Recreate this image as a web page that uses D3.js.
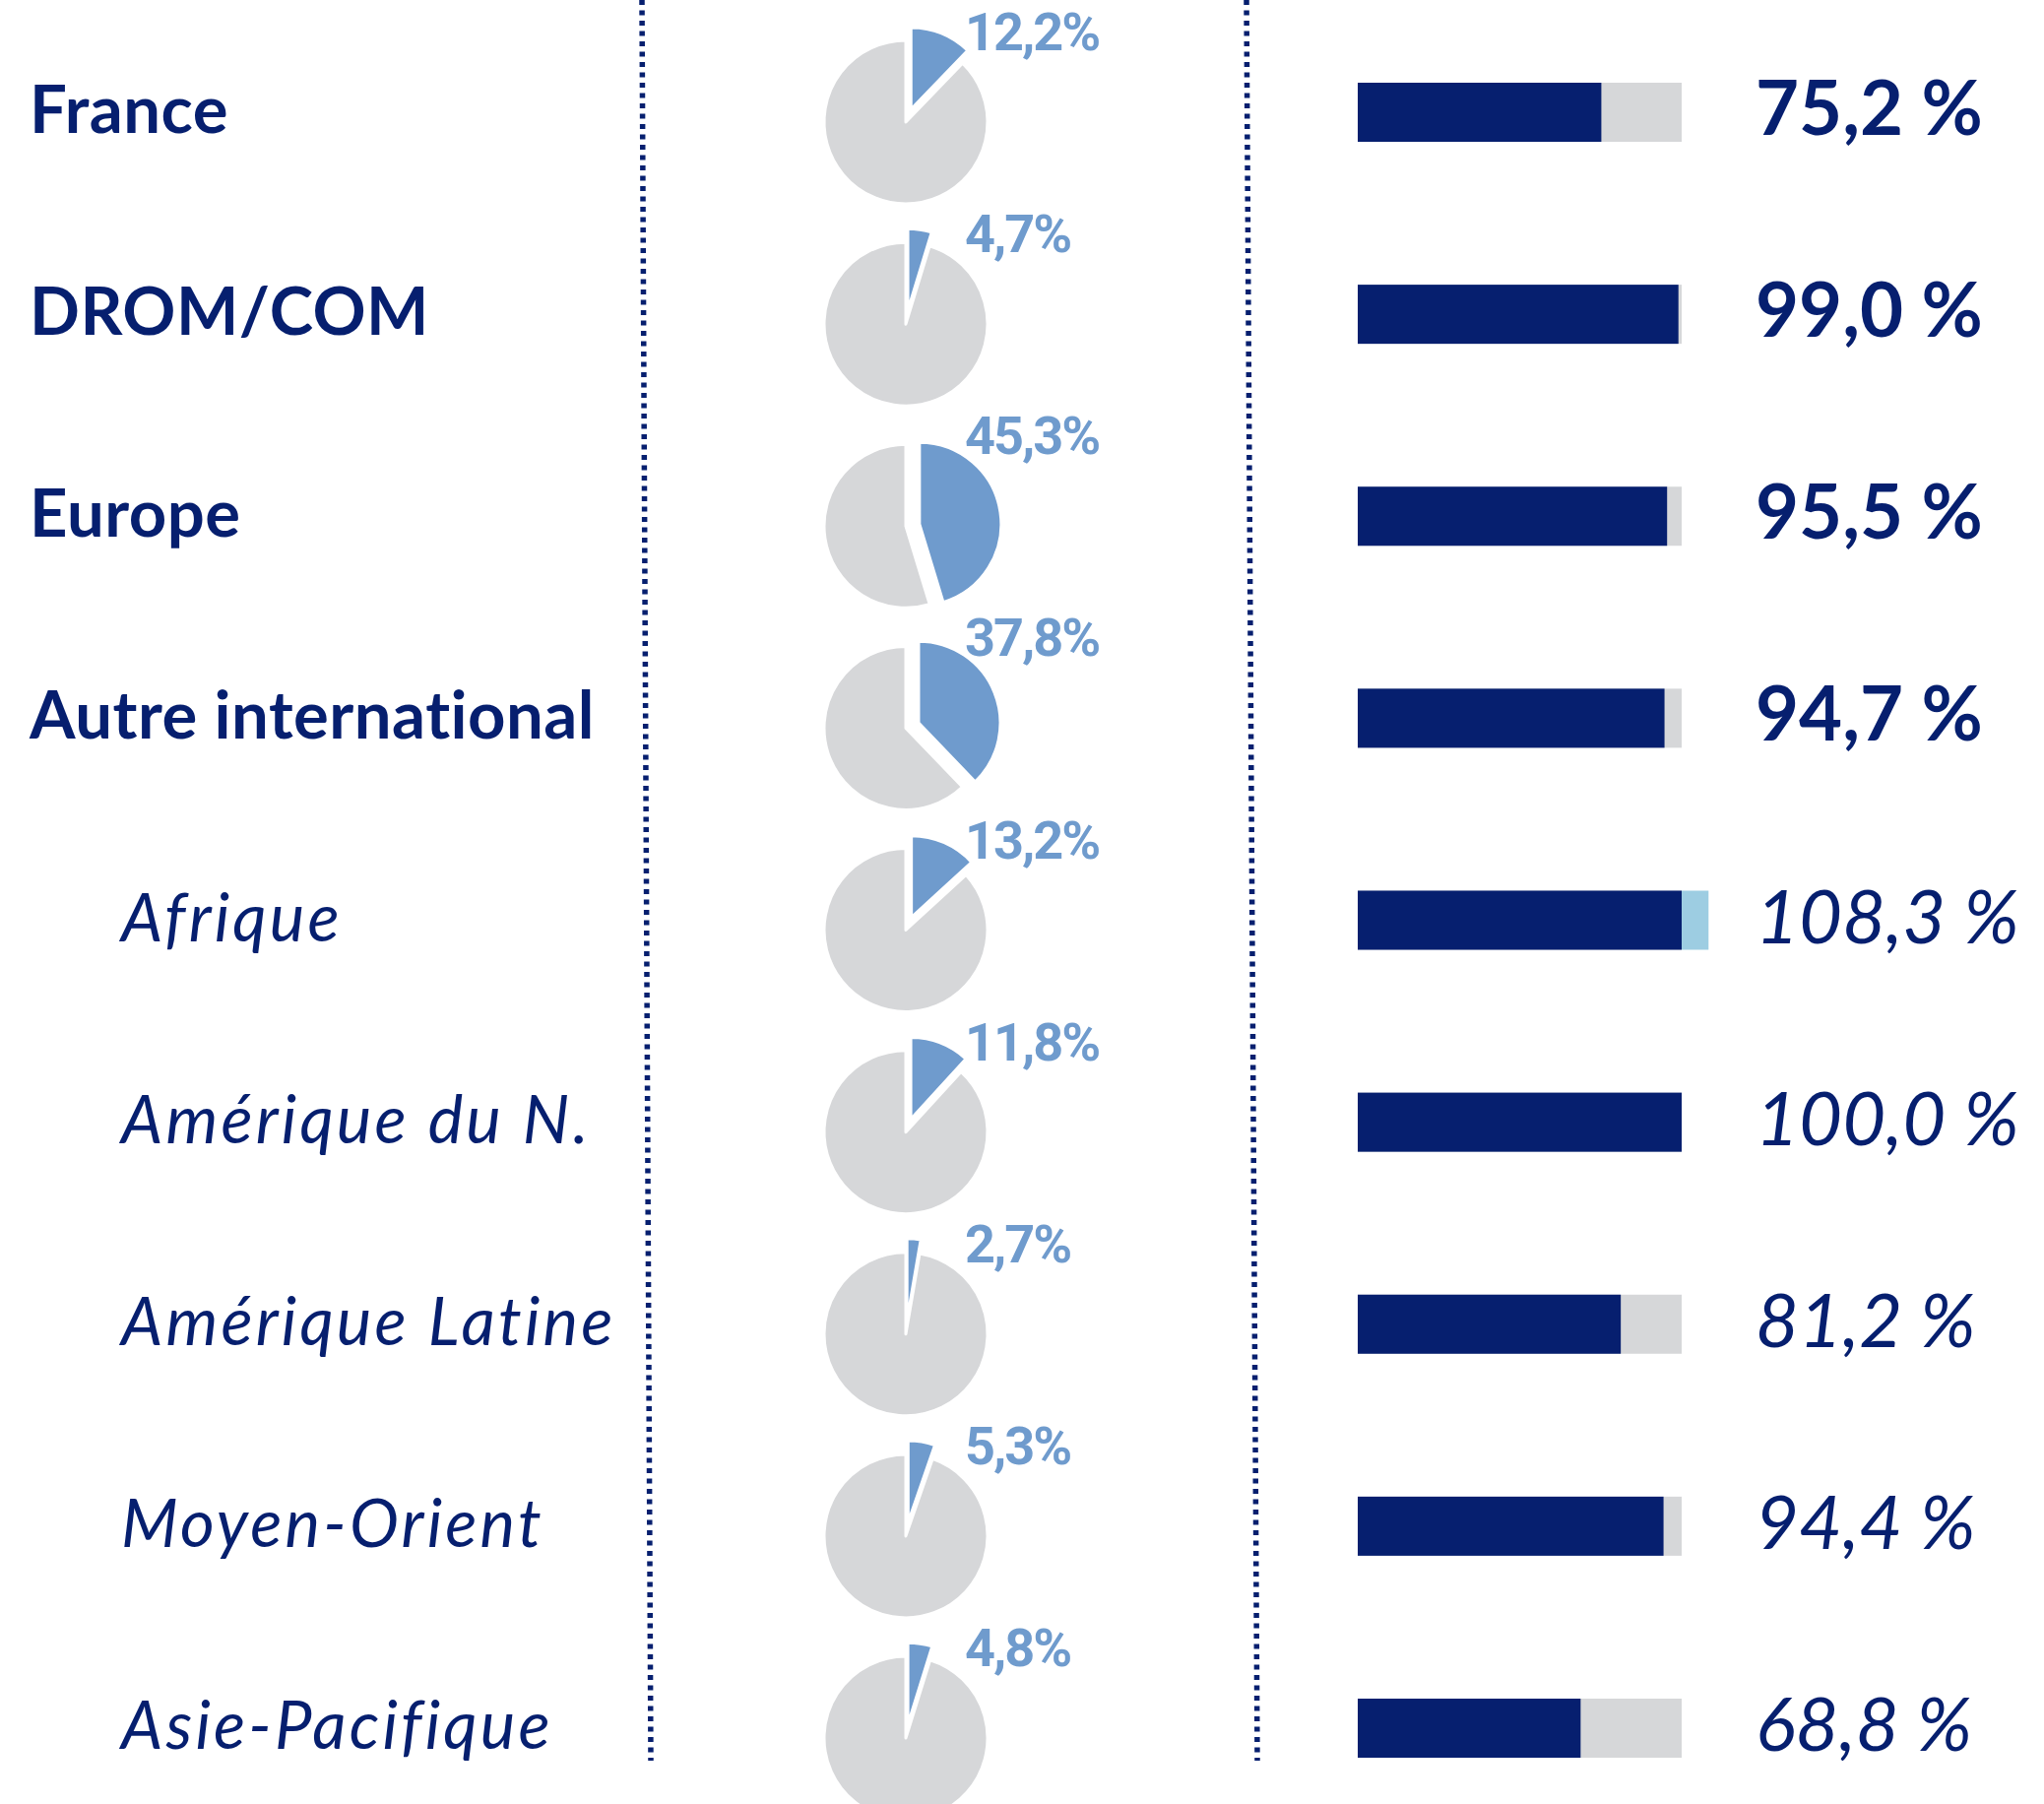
<!DOCTYPE html>
<html>
<head>
<meta charset="utf-8">
<script src="https://cdn.jsdelivr.net/npm/d3@7"></script>
<style>
  body { margin: 0; background: #fff; }
  svg { display: block; }
</style>
</head>
<body>
<div id="chart"></div>
<script>
// regions, level (bold main rows / italic sub rows)
var categories = ["France", "DROM/COM", "Europe", "Autre international",
  "Afrique", "Amérique du N.", "Amérique Latine", "Moyen-Orient", "Asie-Pacifique"];
var levels = ["main", "main", "main", "main", "sub", "sub", "sub", "sub", "sub"];
// share of total (pie) and rate (bar), in %
var shares = [12.2, 4.7, 45.3, 37.8, 13.2, 11.8, 2.7, 5.3, 4.8];
var rates = [75.2, 99.0, 95.5, 94.7, 108.3, 100.0, 81.2, 94.4, 68.8];

var W = 2076, H = 1832;
var navy = "#061f6f", grey = "#d6d7d9", pieBlue = "#6f9bcd", overBlue = "#9dcde2";

var fr = d3.formatLocale({ decimal: ",", thousands: " ", grouping: [3], currency: ["", " €"] });
var f1 = fr.format(".1f");

var rows = categories.map(function (c, i) {
  return { name: c, level: levels[i], share: shares[i], rate: rates[i] };
});

var svg = d3.select("#chart").append("svg")
  .attr("width", W)
  .attr("height", H);

var y = d3.scalePoint().domain(categories).range([114, 1755]);
var x = d3.scaleLinear().domain([0, 100]).range([1379, 1708]);

// dotted separators
svg.append("line")
  .attr("x1", 652).attr("y1", 0).attr("x2", 661).attr("y2", 1788)
  .attr("stroke", navy).attr("stroke-width", 5.5).attr("stroke-dasharray", "5 5.5");
svg.append("line")
  .attr("x1", 1266).attr("y1", 0).attr("x2", 1277).attr("y2", 1788)
  .attr("stroke", navy).attr("stroke-width", 5.5).attr("stroke-dasharray", "5 5.5");

// region labels
svg.selectAll(".label")
  .data(rows)
  .enter()
  .append("text")
  .attr("class", "label")
  .attr("x", function (d) { return d.level == "main" ? 30 : 123; })
  .attr("y", function (d) { return y(d.name) + 21; })
  .attr("fill", navy)
  .style("font-family", "Lato, sans-serif")
  .style("font-size", "67px")
  .style("letter-spacing", function (d) { return d.level == "main" ? "0.5px" : "3.2px"; })
  .style("font-weight", function (d) { return d.level == "main" ? 700 : 400; })
  .style("font-style", function (d) { return d.level == "main" ? "normal" : "italic"; })
  .text(function (d) { return d.name; });

// pies
var pie = d3.pie().sort(null).value(function (v) { return v; });
var arc = d3.arc().innerRadius(0).outerRadius(83);
var explode = 14;

var pies = svg.selectAll(".pie")
  .data(rows)
  .enter()
  .append("g")
  .attr("class", "pie")
  .attr("transform", function (d) { return "translate(920," + (y(d.name) + 10) + ")"; });

pies.each(function (d) {
  var slices = pie([d.share, 100 - d.share]);
  d3.select(this).selectAll("path")
    .data(slices)
    .enter()
    .append("path")
    .attr("d", arc)
    .attr("fill", function (s, i) { return i == 0 ? pieBlue : grey; })
    .attr("stroke", "#fff")
    .attr("stroke-width", 3)
    .attr("stroke-linejoin", "round")
    .attr("transform", function (s, i) {
      if (i != 0) return null;
      var mid = (s.startAngle + s.endAngle) / 2;
      return "translate(" + Math.sin(mid) * explode + "," + (-Math.cos(mid) * explode) + ")";
    });
});

svg.selectAll(".share")
  .data(rows)
  .enter()
  .append("text")
  .attr("class", "share")
  .attr("x", 980)
  .attr("y", function (d) { return y(d.name) - 63; })
  .attr("fill", pieBlue)
  .style("font-family", "Roboto, sans-serif")
  .style("font-weight", 700)
  .style("font-size", "54px")
  .style("letter-spacing", "-2px")
  .text(function (d) { return f1(d.share) + "%"; });

// bars: grey 100 % track, navy up to rate, light blue beyond 100 %
var barH = 60;
svg.selectAll(".track")
  .data(rows)
  .enter()
  .append("rect")
  .attr("class", "track")
  .attr("x", x(0))
  .attr("y", function (d) { return y(d.name) - barH / 2; })
  .attr("width", x(100) - x(0))
  .attr("height", barH)
  .attr("fill", grey);

svg.selectAll(".over")
  .data(rows.filter(function (d) { return d.rate > 100; }))
  .enter()
  .append("rect")
  .attr("class", "over")
  .attr("x", x(100))
  .attr("y", function (d) { return y(d.name) - barH / 2; })
  .attr("width", function (d) { return x(d.rate) - x(100); })
  .attr("height", barH)
  .attr("fill", overBlue);

svg.selectAll(".bar")
  .data(rows)
  .enter()
  .append("rect")
  .attr("class", "bar")
  .attr("x", x(0))
  .attr("y", function (d) { return y(d.name) - barH / 2; })
  .attr("width", function (d) { return x(Math.min(d.rate, 100)) - x(0); })
  .attr("height", barH)
  .attr("fill", navy);

// rate values
svg.selectAll(".value")
  .data(rows)
  .enter()
  .append("text")
  .attr("class", "value")
  .attr("x", 1783)
  .attr("y", function (d) { return y(d.name) + 23; })
  .attr("fill", navy)
  .style("font-family", "Lato, sans-serif")
  .style("font-size", "76px")
  .style("font-weight", function (d) { return d.level == "main" ? 700 : 400; })
  .style("font-style", function (d) { return d.level == "main" ? "normal" : "italic"; })
  .text(function (d) { return f1(d.rate) + " %"; });
</script>
</body>
</html>
